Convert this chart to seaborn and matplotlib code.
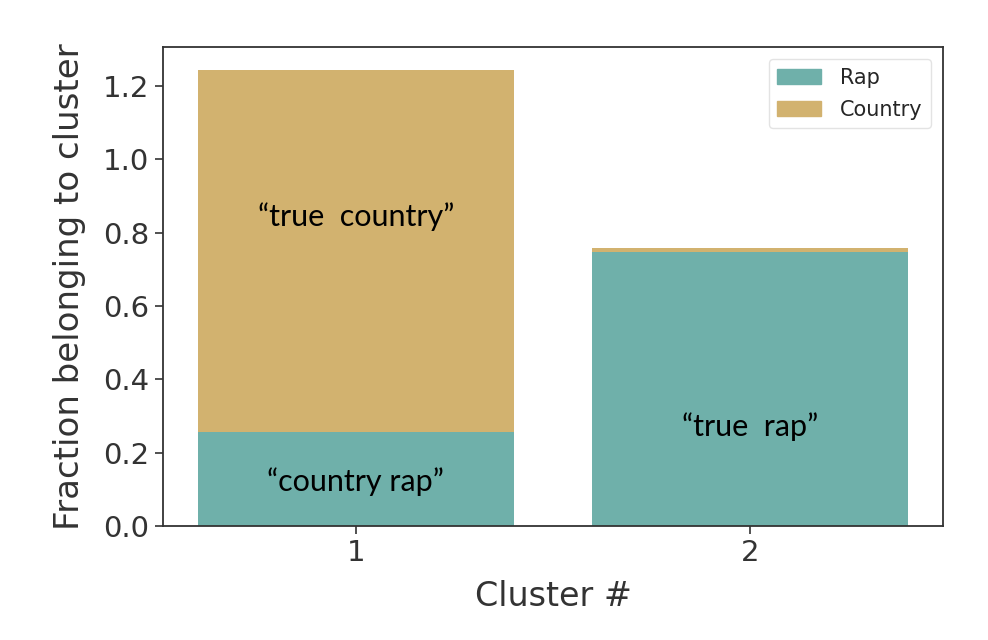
import numpy as np
import pandas as pd
import seaborn as sns
import matplotlib.pyplot as plt
from matplotlib.patches import Patch

# ========== data ==========
clusters = ['1', '2']
rap_frac = [0.257, 0.748]
country_frac = [0.988, 0.010]
notes = ['“country rap”', '“true  rap”']
note_y = [0.12, 0.27]
note_top = '“true  country”'
note_top_y = 0.845
# ==========================

RAP_COLOR = '#6fb0aa'
COUNTRY_COLOR = '#d2b26f'

sns.set_style('ticks')
plt.rcParams['font.family'] = ['DejaVu Sans']

df = pd.DataFrame({'cluster': clusters, 'rap': rap_frac, 'country': country_frac})
df['total'] = df['rap'] + df['country']

fig = plt.figure(figsize=(9.88, 6.4), dpi=100)
ax = fig.add_axes([0.1647, 0.178, 0.79, 0.749])

# totals first (country on top), then rap over it
sns.barplot(data=df, x='cluster', y='total', color=COUNTRY_COLOR, saturation=1,
            width=0.8, linewidth=0, ax=ax)
sns.barplot(data=df, x='cluster', y='rap', color=RAP_COLOR, saturation=1,
            width=0.8, linewidth=0, ax=ax)

ax.set_xlim(-0.49, 1.49)
ax.set_ylim(0, df['total'].max() * 1.05)
ax.set_yticks(np.arange(0, 1.21, 0.2))
ax.set_xlabel('Cluster #', fontsize=24, color='#333333', labelpad=9)
ax.set_ylabel('Fraction belonging to cluster', fontsize=24.5, color='#333333',
              labelpad=12)
ax.tick_params(labelsize=21, colors='#333333', length=6, width=1.2)
for s in ax.spines.values():
    s.set_visible(True)
    s.set_color('#333333')
    s.set_linewidth(1.3)

# text notes inside the segments
for i in range(len(clusters)):
    ax.text(i, note_y[i], notes[i], ha='center', va='center',
            fontsize=22, family=['Lato', 'DejaVu Sans'], color='black')
ax.text(0, note_top_y, note_top, ha='center', va='center', fontsize=22,
        family=['Lato', 'DejaVu Sans'], color='black')

handles = [Patch(color=RAP_COLOR, label='Rap'), Patch(color=COUNTRY_COLOR, label='Country')]
ax.legend(handles=handles, loc='upper right', fontsize=15, frameon=True,
          edgecolor='#dddddd', handlelength=2.1, handleheight=0.7,
          handletextpad=0.9, labelspacing=0.6, borderaxespad=0.6)

fig.savefig('out.png', dpi=100)
